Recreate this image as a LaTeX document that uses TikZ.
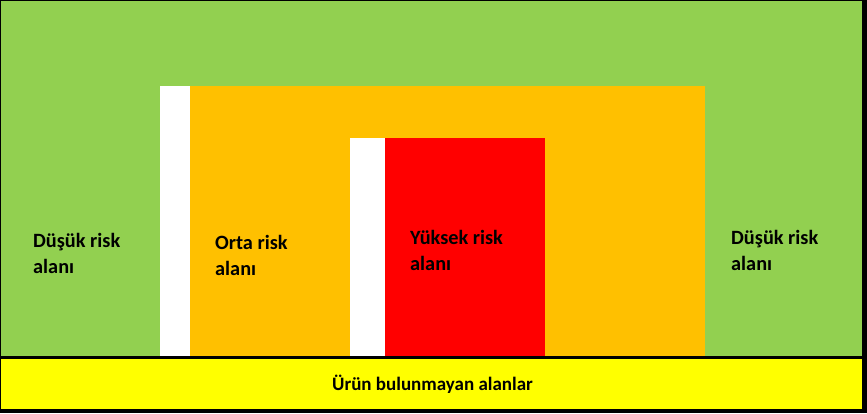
\documentclass[tikz,border=0pt]{standalone}
\usepackage{fontspec}
\setmainfont{Carlito}
\definecolor{lowgreen}{HTML}{92D050}
\definecolor{midorange}{HTML}{FFC000}
\definecolor{highred}{HTML}{FF0000}
\definecolor{noyellow}{HTML}{FFFF00}
\tikzset{
  lbl/.style={anchor=base west, inner sep=0pt, align=left, text=black,
    font=\fontsize{20.3}{26}\selectfont\bfseries},
}
\begin{document}
\begin{tikzpicture}[x=1pt,y=-1pt]
\useasboundingbox (0,0) rectangle (867,413);
\fill[black] (0,0) rectangle (867,413);
\fill[lowgreen] (1,1) rectangle (862,356);
\fill[noyellow] (1,359) rectangle (862,409);
\fill[white] (160,86) rectangle (190,356);
\fill[midorange] (190,86) rectangle (705,356);
\fill[white] (350,138) rectangle (385,356);
\fill[highred] (385,138) rectangle (545,356);
\node[lbl] (lowleft) at (33,273) {Düşük risk\\alanı};
\node[lbl] (mid) at (215,275) {Orta risk\\alanı};
\node[lbl] (high) at (410,270) {Yüksek risk\\alanı};
\node[lbl] (lowright) at (731,270) {Düşük risk\\alanı};
\node[anchor=base, inner sep=0pt, font=\fontsize{19}{24}\selectfont\bfseries] (none) at (432.5,390) {Ürün bulunmayan alanlar};
\end{tikzpicture}
\end{document}
